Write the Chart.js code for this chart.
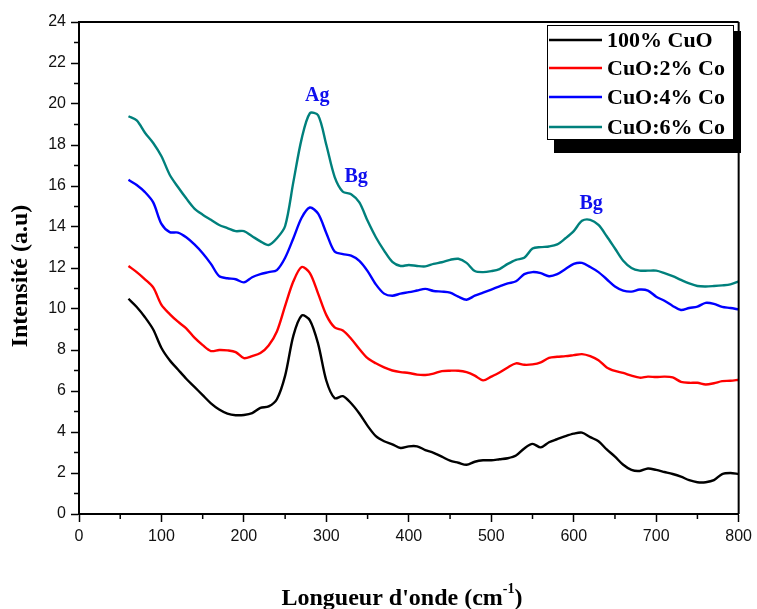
<!DOCTYPE html>
<html>
<head>
<meta charset="utf-8">
<script src="https://cdn.jsdelivr.net/npm/chart.js@4.4.1/dist/chart.umd.min.js"></script>
<style>
  html, body { margin: 0; padding: 0; background: #fff; }
  #raman { display: block; }
</style>
</head>
<body>
<canvas id="raman" width="757" height="609"></canvas>
<script>
// Nombre d'onde (cm-1)
const wavenumbers = [60, 70, 80, 90, 100, 110, 120, 130, 140, 150, 160, 170, 180, 190, 200,
  210, 220, 230, 240, 250, 260, 270, 280, 290, 300, 310, 320, 330, 340, 350,
  360, 370, 380, 390, 400, 410, 420, 430, 440, 450, 460, 470, 480, 490, 500,
  510, 520, 530, 540, 550, 560, 570, 580, 590, 600, 610, 620, 630, 640, 650,
  660, 670, 680, 690, 700, 710, 720, 730, 740, 750, 760, 770, 780, 790, 800];

// Intensités (décalées) des quatre échantillons
const cuoPure = [10.5, 10.1, 9.6, 9.0, 8.1, 7.5, 7.05, 6.6, 6.2, 5.8, 5.4, 5.1, 4.9, 4.82, 4.83,
  4.92, 5.18, 5.25, 5.6, 6.75, 8.7, 9.68, 9.45, 8.3, 6.5, 5.65, 5.75, 5.4, 4.9, 4.3,
  3.8, 3.55, 3.4, 3.22, 3.3, 3.3, 3.12, 2.98, 2.8, 2.6, 2.5, 2.4, 2.55, 2.62, 2.62,
  2.67, 2.72, 2.85, 3.2, 3.42, 3.25, 3.5, 3.65, 3.8, 3.92, 3.97, 3.75, 3.55, 3.15, 2.8,
  2.4, 2.15, 2.1, 2.22, 2.15, 2.05, 1.95, 1.82, 1.65, 1.55, 1.55, 1.65, 1.95, 2.0, 1.95];

const cuoCo2 = [12.1, 11.8, 11.45, 11.05, 10.2, 9.75, 9.38, 9.06, 8.6, 8.24, 7.95, 8.0, 7.98, 7.9, 7.6,
  7.7, 7.85, 8.22, 8.9, 10.15, 11.35, 12.05, 11.75, 10.75, 9.7, 9.1, 8.95, 8.55, 8.05, 7.6,
  7.35, 7.15, 7.0, 6.92, 6.88, 6.8, 6.78, 6.85, 6.97, 6.99, 6.99, 6.92, 6.75, 6.52, 6.7,
  6.9, 7.15, 7.35, 7.28, 7.3, 7.4, 7.62, 7.67, 7.7, 7.75, 7.8, 7.7, 7.5, 7.15, 6.98,
  6.88, 6.75, 6.65, 6.7, 6.68, 6.7, 6.66, 6.45, 6.4, 6.4, 6.32, 6.38, 6.48, 6.5, 6.55];

const cuoCo4 = [16.3, 16.05, 15.7, 15.2, 14.15, 13.75, 13.73, 13.5, 13.15, 12.72, 12.2, 11.6, 11.5, 11.45, 11.3,
  11.55, 11.7, 11.8, 11.9, 12.5, 13.45, 14.45, 14.95, 14.65, 13.7, 12.8, 12.68, 12.6, 12.35, 11.85,
  11.2, 10.75, 10.65, 10.75, 10.82, 10.9, 10.98, 10.88, 10.85, 10.8, 10.6, 10.45, 10.65, 10.8, 10.95,
  11.1, 11.25, 11.35, 11.7, 11.8, 11.75, 11.6, 11.7, 11.95, 12.2, 12.25, 12.05, 11.8, 11.45, 11.1,
  10.9, 10.85, 10.95, 10.9, 10.6, 10.4, 10.15, 9.95, 10.05, 10.12, 10.3, 10.25, 10.1, 10.05, 9.98];

const cuoCo6 = [19.4, 19.2, 18.6, 18.1, 17.45, 16.55, 15.95, 15.4, 14.9, 14.6, 14.35, 14.1, 13.95, 13.8, 13.8,
  13.55, 13.3, 13.12, 13.45, 14.05, 16.2, 18.3, 19.55, 19.45, 18.0, 16.45, 15.72, 15.6, 15.2, 14.3,
  13.5, 12.85, 12.3, 12.1, 12.15, 12.1, 12.08, 12.2, 12.28, 12.4, 12.45, 12.25, 11.85, 11.8, 11.85,
  11.95, 12.2, 12.4, 12.5, 12.95, 13.02, 13.05, 13.15, 13.45, 13.8, 14.3, 14.35, 14.1, 13.55, 12.95,
  12.35, 12.0, 11.87, 11.87, 11.87, 11.75, 11.6, 11.42, 11.25, 11.12, 11.1, 11.12, 11.15, 11.2, 11.35];

const sampleNames = ['100% CuO', 'CuO:2% Co', 'CuO:4% Co', 'CuO:6% Co'];
const sampleColors = ['#000000', '#ff0000', '#0000ff', '#00807c'];

// Modes Raman annotés : libellé, nombre d'onde, intensité
const modeNames = ['Ag', 'Bg', 'Bg'];
const modeX = [289, 336, 621];
const modeY = [20.4, 16.45, 15.15];

const serif = '"Liberation Serif", "Times New Roman", serif';
const sans = '"Liberation Sans", Arial, sans-serif';

const series = [cuoPure, cuoCo2, cuoCo4, cuoCo6];
const datasets = series.map((vals, i) => ({
  label: sampleNames[i],
  data: vals.map((v, k) => ({ x: wavenumbers[k], y: v })),
  borderColor: sampleColors[i],
  borderWidth: 2.4,
  pointRadius: 0,
  tension: 0.3,
  fill: false
}));

function line(ctx, x1, y1, x2, y2) {
  ctx.beginPath();
  ctx.moveTo(x1, y1);
  ctx.lineTo(x2, y2);
  ctx.stroke();
}

const decor = {
  id: 'decor',
  afterDraw(chart) {
    const { ctx, chartArea: a, scales: { x, y } } = chart;
    ctx.save();

    // cadre haut et droit
    ctx.strokeStyle = '#000';
    ctx.lineWidth = 2;
    line(ctx, a.left, a.top, a.right, a.top);
    line(ctx, a.right, a.top, a.right, a.bottom);

    // graduations secondaires
    ctx.lineWidth = 1.5;
    for (let v = 1; v < 24; v += 2) {
      const py = y.getPixelForValue(v);
      line(ctx, a.left - 5, py, a.left, py);
    }
    for (let v = 50; v < 800; v += 100) {
      const px = x.getPixelForValue(v);
      line(ctx, px, a.bottom, px, a.bottom + 5);
    }

    // modes Ag / Bg
    ctx.fillStyle = '#1010ee';
    ctx.font = 'bold 20px ' + serif;
    ctx.textAlign = 'center';
    ctx.textBaseline = 'middle';
    modeNames.forEach((m, i) => {
      ctx.fillText(m, x.getPixelForValue(modeX[i]), y.getPixelForValue(modeY[i]));
    });

    // légende avec ombre
    const lx = 547, ly = 25, lw = 186, lh = 114;
    ctx.fillStyle = '#000';
    ctx.fillRect(lx + 7, ly + 6, lw + 1, lh + 8);
    ctx.fillStyle = '#fff';
    ctx.fillRect(lx, ly, lw, lh);
    ctx.strokeStyle = '#000';
    ctx.lineWidth = 1;
    ctx.strokeRect(lx + 0.5, ly + 0.5, lw, lh);
    ctx.font = 'bold 22px ' + serif;
    ctx.textAlign = 'left';
    ctx.textBaseline = 'middle';
    const rows = [40, 68, 97, 127];
    sampleNames.forEach((name, i) => {
      ctx.strokeStyle = sampleColors[i];
      ctx.lineWidth = 2.5;
      line(ctx, lx + 2, rows[i], lx + 55, rows[i]);
      ctx.fillStyle = '#000';
      ctx.fillText(name, lx + 60, rows[i] + 1);
    });

    // titre de l'axe X avec exposant
    ctx.fillStyle = '#000';
    ctx.textBaseline = 'alphabetic';
    const main = "Longueur d'onde (cm";
    ctx.font = 'bold 24px ' + serif;
    const w1 = ctx.measureText(main).width;
    ctx.font = 'bold 14px ' + serif;
    const w2 = ctx.measureText('-1').width;
    ctx.font = 'bold 24px ' + serif;
    const w3 = ctx.measureText(')').width;
    let tx = 402 - (w1 + w2 + w3) / 2;
    const base = 605;
    ctx.fillText(main, tx, base);
    tx += w1;
    ctx.font = 'bold 14px ' + serif;
    ctx.fillText('-1', tx, base - 12);
    tx += w2;
    ctx.font = 'bold 24px ' + serif;
    ctx.fillText(')', tx, base);

    // titre de l'axe Y
    ctx.translate(21, 276);
    ctx.rotate(-Math.PI / 2);
    ctx.textAlign = 'center';
    ctx.textBaseline = 'middle';
    ctx.font = 'bold 24px ' + serif;
    ctx.fillText('Intensité (a.u)', 0, 0);
    ctx.restore();
  }
};

new Chart(document.getElementById('raman'), {
  type: 'line',
  data: { datasets: datasets },
  options: {
    responsive: false,
    animation: false,
    layout: { padding: { top: 22, right: 17, left: 0, bottom: 0 } },
    plugins: {
      legend: { display: false },
      tooltip: { enabled: false }
    },
    scales: {
      x: {
        type: 'linear',
        min: 0,
        max: 800,
        afterFit: s => { s.height = 95; },
        ticks: {
          stepSize: 100,
          autoSkip: false,
          maxRotation: 0,
          padding: 5,
          color: '#111',
          font: { family: sans, size: 16 }
        },
        grid: { drawOnChartArea: false, tickLength: 8, tickWidth: 1.5, tickColor: '#000' },
        border: { color: '#000', width: 2 }
      },
      y: {
        min: 0,
        max: 24,
        afterFit: s => { s.width = 79; },
        ticks: {
          stepSize: 2,
          padding: 5,
          color: '#111',
          font: { family: sans, size: 16 }
        },
        grid: { drawOnChartArea: false, tickLength: 8, tickWidth: 1.5, tickColor: '#000' },
        border: { color: '#000', width: 2 }
      }
    }
  },
  plugins: [decor]
});
</script>
</body>
</html>
